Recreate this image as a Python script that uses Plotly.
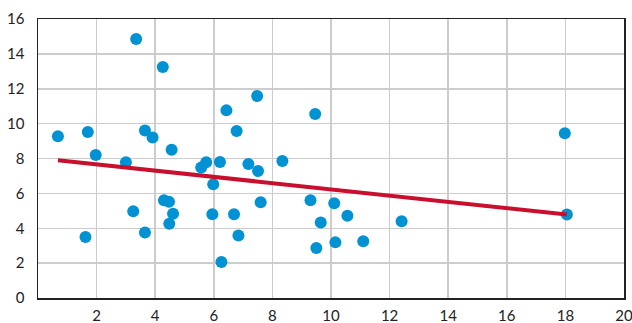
import numpy as np
import plotly.graph_objects as go

x_vals = [0.68, 1.70, 1.97, 1.62, 3.00, 3.25, 3.35, 3.65, 3.65, 3.91, 4.26, 4.30, 4.47,
          4.48, 4.61, 4.56, 5.57, 5.74, 5.98, 5.95, 6.26, 6.21, 6.43, 6.69, 6.78, 6.84,
          7.18, 7.48, 7.51, 7.60, 8.34, 9.30, 9.46, 9.50, 9.65, 10.11, 10.15, 10.56,
          11.10, 12.41, 17.98, 18.05]
y_vals = [9.27, 9.52, 8.20, 3.50, 7.78, 4.97, 14.85, 9.60, 3.76, 9.21, 13.25, 5.60, 5.52,
          4.26, 4.83, 8.50, 7.49, 7.78, 6.52, 4.80, 2.07, 7.80, 10.76, 4.80, 9.58, 3.58,
          7.69, 11.59, 7.28, 5.49, 7.86, 5.60, 10.55, 2.87, 4.33, 5.43, 3.19, 4.72,
          3.25, 4.40, 9.45, 4.79]

x_ticks = [2, 4, 6, 8, 10, 12, 14, 16, 18, 20]
y_ticks = [0, 2, 4, 6, 8, 10, 12, 14, 16]

slope, intercept = np.polyfit(x_vals, y_vals, 1)
trend_x = [min(x_vals), max(x_vals)]
trend_y = [slope * v + intercept for v in trend_x]

fig = go.Figure()
fig.add_trace(go.Scatter(x=x_vals, y=y_vals, mode="markers",
                         marker=dict(color="#0092d2", size=12, line=dict(width=0)),
                         hoverinfo="skip", cliponaxis=False))
fig.add_trace(go.Scatter(x=trend_x, y=trend_y, mode="lines",
                         line=dict(color="#c8102e", width=4), hoverinfo="skip"))

font = dict(family="Gill Sans, Lato, sans-serif", size=15, color="#222222")
fig.update_layout(
    width=632, height=323,
    margin=dict(l=38, r=8, t=19, b=25, autoexpand=False),
    paper_bgcolor="white", plot_bgcolor="white",
    showlegend=False, font=font,
)
fig.update_xaxes(range=[0, 20], tickvals=x_ticks, ticktext=[str(v) for v in x_ticks],
                 showgrid=True, gridcolor="#cccccc", gridwidth=1.5,
                 showline=True, linecolor="#222222", linewidth=1.5, mirror=True,
                 ticks="", zeroline=False, tickfont=font, automargin=False,
                 ticklabelstandoff=3, ticklabeloverflow="allow")
fig.update_yaxes(range=[0, 16], tickvals=y_ticks, ticktext=[str(v) for v in y_ticks],
                 showgrid=True, gridcolor="#cccccc", gridwidth=1.5,
                 showline=True, linecolor="#222222", linewidth=1.5, mirror=True,
                 ticks="", zeroline=False, tickfont=font, automargin=False,
                 ticklabelstandoff=9, ticklabeloverflow="allow")

fig.write_html("out.html",
               config={"displayModeBar": False, "staticPlot": True},
               post_script="document.body.style.margin='0px';"
                           "document.body.style.overflow='hidden';")
